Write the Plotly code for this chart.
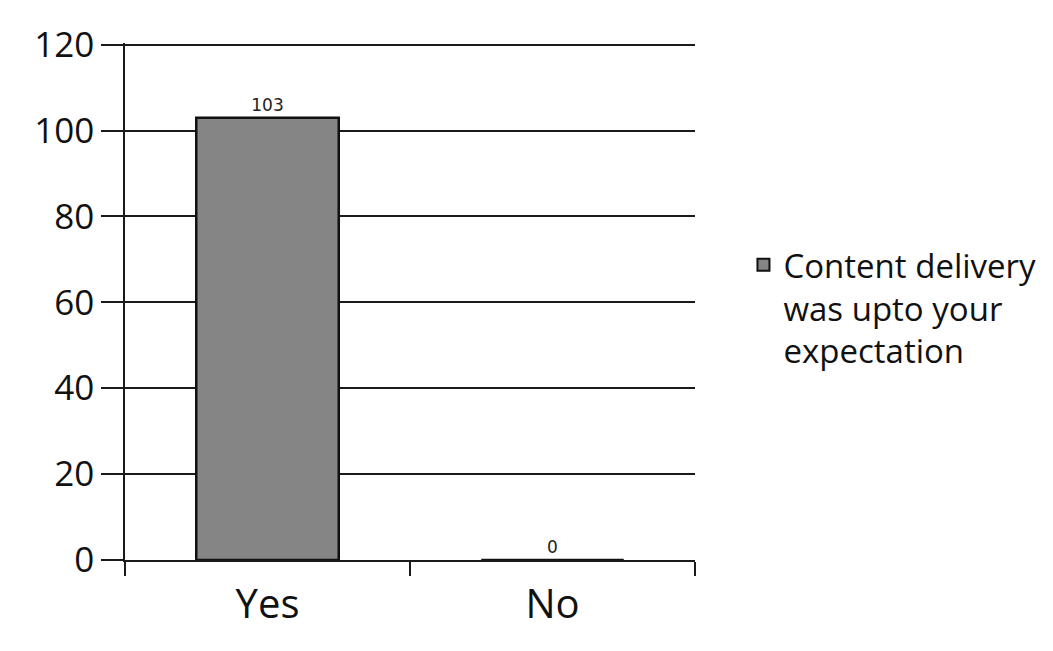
import plotly.graph_objects as go

# data
categories = ["Yes", "No"]
responses = [103, 0]
series_name = "Content delivery<br>was upto your<br>expectation"
y_ticks = [0, 20, 40, 60, 80, 100, 120]

fig = go.Figure()

fig.add_trace(
    go.Bar(
        x=categories,
        y=responses,
        name=series_name,
        width=0.5,
        marker=dict(color="#858585", line=dict(color="#111111", width=2.5)),
        text=[str(v) for v in responses],
        textposition="outside",
        textfont=dict(family="DejaVu Sans", size=17, color="#222222"),
        cliponaxis=False,
        showlegend=True,
    )
)

fig.update_layout(
    width=1053,
    height=651,
    margin=dict(l=117, r=366, t=28, b=99),
    paper_bgcolor="white",
    plot_bgcolor="white",
    font=dict(family="Open Sans", color="#111111"),
    bargap=0.5,
    legend=dict(
        x=1.085,
        y=0.625,
        xanchor="left",
        yanchor="top",
        valign="top",
        font=dict(family="Open Sans", size=33, color="#111111"),
        itemsizing="constant",
        tracegroupgap=0,
    ),
)

fig.update_yaxes(
    range=[0, 120.4],
    tickvals=y_ticks,
    automargin=True,
    showgrid=True,
    gridcolor="#1a1a1a",
    gridwidth=1.5,
    showline=True,
    linecolor="#1a1a1a",
    linewidth=1.5,
    ticks="outside",
    ticklen=22,
    tickcolor="#1a1a1a",
    tickwidth=1.5,
    tickfont=dict(size=35, family="Open Sans", color="#111111"),
    zeroline=False,
)

fig.update_xaxes(
    automargin=False,
    showline=True,
    linecolor="#1a1a1a",
    linewidth=1.5,
    ticks="outside",
    tickson="boundaries",
    ticklen=14,
    tickcolor="#1a1a1a",
    tickwidth=1.5,
    tickfont=dict(size=40, family="Open Sans", color="#111111"),
    ticklabelstandoff=8,
)

fig.write_html("out.html")
